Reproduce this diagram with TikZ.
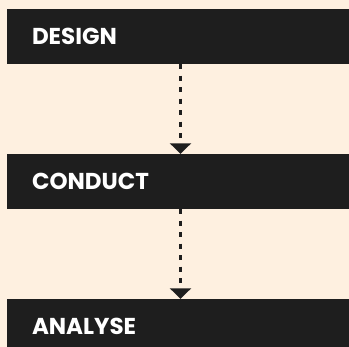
\documentclass[tikz,border=0pt]{standalone}
\usepackage{xcolor}
\usepackage{fontspec}
\setmainfont{Poppins}
\usepackage{tikz}
\usetikzlibrary{arrows.meta}
\usetikzlibrary{positioning}
\definecolor{fond}{HTML}{FEF0E0}
\definecolor{barre}{HTML}{1E1E1E}
\tikzstyle{phase}=[
        rectangle,
        fill=barre,
        text=white,
        font=\bfseries\fontsize{23}{27}\selectfont,
        minimum height=55pt,
        text width=292pt,
        inner xsep=25pt,
        align=left
]
\tikzstyle{suite}=[-{Triangle[width=21pt,length=10.5pt]},draw=barre,line width=2.3pt,dash pattern=on 5pt off 6.5pt]

\begin{document}
\begin{tikzpicture}[x=1pt,y=1pt]
\fill[fond] (0,0) rectangle (349,-347);
\clip (0,0) rectangle (349,-347);
\node[phase] (design) at (178,-36.5) {DESIGN};
\node[phase] (conduct) at (178,-181.5) {CONDUCT};
\node[phase] (analyse) at (178,-326.5) {ANALYSE};
%arrows
\draw[suite] ([xshift=2.5pt]design.south) -- ([xshift=2.5pt]conduct.north);
\draw[suite] ([xshift=2.5pt]conduct.south) -- ([xshift=2.5pt]analyse.north);
\end{tikzpicture}
\end{document}
